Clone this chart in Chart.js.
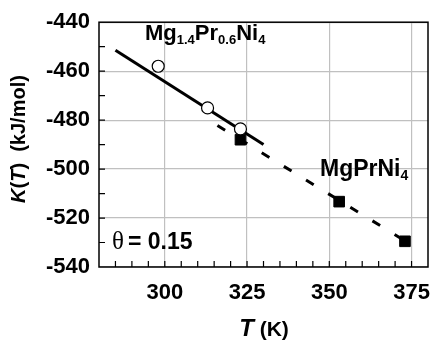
<!DOCTYPE html>
<html>
<head>
<meta charset="utf-8">
<script src="https://cdn.jsdelivr.net/npm/chart.js@4"></script>
<style>
	html, body { margin: 0; padding: 0; background: #fff; }
	#wrap { width: 448px; height: 347px; }
</style>
</head>
<body>
<div id="wrap"><canvas id="chart"></canvas></div>
<script>
// Mg1.4Pr0.6Ni4, open circles
const tempMgPr06 = [298, 313, 323];
const kMgPr06 = [-458, -475, -483.6];
// MgPrNi4, filled squares
const tempMgPr = [323, 353, 373];
const kMgPr = [-488, -513.3, -529.5];
// fitted lines (ends)
const fitSolidT = [285, 330];
const fitSolidK = [-451.5, -490];
const fitDashT = [316, 375.5];
const fitDashK = [-482.2, -531.4];

const xTickLabels = [300, 325, 350, 375];
const yTickLabels = [-440, -460, -480, -500, -520, -540];

function toPoints(xs, ys) {
	return xs.map((x, i) => ({ x: x, y: ys[i] }));
}

const sans = '"Liberation Sans", Arial, sans-serif';

// frame, inside ticks and text labels
const decorPlugin = {
	id: 'decor',
	afterDraw(chart) {
		const ctx = chart.ctx;
		const a = chart.chartArea;
		const xs = chart.scales.x;
		const ys = chart.scales.y;
		ctx.save();
		ctx.strokeStyle = '#000';
		ctx.lineWidth = 1.5;
		ctx.strokeRect(a.left, a.top, a.right - a.left, a.bottom - a.top);

		ctx.lineWidth = 1.2;
		ctx.beginPath();
		for (let v = -530; v < -440; v += 10) {
			let py = ys.getPixelForValue(v);
			ctx.moveTo(a.left, py);
			ctx.lineTo(a.left + 6, py);
		}
		for (let v = 285; v < 380; v += 5) {
			let px = xs.getPixelForValue(v);
			ctx.moveTo(px, a.bottom);
			ctx.lineTo(px, a.bottom - 6);
		}
		ctx.stroke();

		ctx.fillStyle = '#000';
		ctx.textBaseline = 'alphabetic';
		ctx.textAlign = 'left';

		// Mg1.4Pr0.6Ni4
		let x = 145, y = 40;
		const parts = [['Mg', 0], ['1.4', 1], ['Pr', 0], ['0.6', 1], ['Ni', 0], ['4', 1]];
		parts.forEach(p => {
			ctx.font = p[1] ? 'bold 13px ' + sans : 'bold 22px ' + sans;
			ctx.fillText(p[0], x, y + (p[1] ? 4 : 0));
			x += ctx.measureText(p[0]).width;
		});

		// MgPrNi4
		x = 320; y = 176;
		[['MgPrNi', 0], ['4', 1]].forEach(p => {
			ctx.font = p[1] ? 'bold 14px ' + sans : 'bold 23px ' + sans;
			ctx.fillText(p[0], x, y + (p[1] ? 4 : 0));
			x += ctx.measureText(p[0]).width;
		});

		// theta label
		ctx.font = '25px "Liberation Serif", serif';
		ctx.fillText('\u03b8', 112, 249);
		ctx.font = 'bold 23px ' + sans;
		ctx.fillText('= 0.15', 128, 249);

		// x axis title: T (K)
		ctx.font = 'italic bold 24px ' + sans;
		let w1 = ctx.measureText('T').width;
		ctx.font = 'bold 21px ' + sans;
		let w2 = ctx.measureText(' (K)').width;
		x = 264 - (w1 + w2) / 2;
		ctx.font = 'italic bold 24px ' + sans;
		ctx.fillText('T', x, 336);
		ctx.font = 'bold 21px ' + sans;
		ctx.fillText(' (K)', x + w1, 336);

		// y axis title: K(T)  (kJ/mol)
		ctx.translate(25, 139);
		ctx.rotate(-Math.PI / 2);
		const ySegs = [['K', 'italic bold'], ['(', 'bold'], ['T', 'italic bold'], [')  (kJ/mol)', 'bold']];
		let total = 0;
		ySegs.forEach(s => {
			ctx.font = s[1] + ' 20px ' + sans;
			total += ctx.measureText(s[0]).width;
		});
		x = -total / 2;
		ySegs.forEach(s => {
			ctx.font = s[1] + ' 20px ' + sans;
			ctx.fillText(s[0], x, 0);
			x += ctx.measureText(s[0]).width;
		});
		ctx.restore();
	}
};

const ctx = document.getElementById('chart');

new Chart(ctx, {
	type: 'scatter',
	data: {
		datasets: [
			{
				label: 'Mg1.4Pr0.6Ni4',
				data: toPoints(tempMgPr06, kMgPr06),
				pointStyle: 'circle',
				pointRadius: 6,
				backgroundColor: '#fff',
				borderColor: '#000',
				borderWidth: 1.2,
				order: 1
			},
			{
				label: 'MgPrNi4',
				data: toPoints(tempMgPr, kMgPr),
				pointStyle: 'rect',
				pointRadius: 7.5,
				backgroundColor: '#000',
				borderColor: '#000',
				borderWidth: 1,
				order: 2
			},
			{
				label: 'fit Mg1.4Pr0.6Ni4',
				data: toPoints(fitSolidT, fitSolidK),
				showLine: true,
				pointRadius: 0,
				borderColor: '#000',
				borderWidth: 3,
				order: 3
			},
			{
				label: 'fit MgPrNi4',
				data: toPoints(fitDashT, fitDashK),
				showLine: true,
				pointRadius: 0,
				borderColor: '#000',
				borderWidth: 3,
				borderDash: [9, 17],
				order: 4
			}
		]
	},
	options: {
		responsive: true,
		maintainAspectRatio: false,
		animation: false,
		layout: { padding: { left: 0, right: 20, top: 13, bottom: 0 } },
		plugins: {
			legend: { display: false },
			tooltip: { enabled: false }
		},
		scales: {
			x: {
				type: 'linear',
				min: 280,
				max: 380,
				afterFit: (scale) => { scale.height = 80; },
				border: { display: false },
				grid: {
					drawTicks: false,
					lineWidth: 1.2,
					color: (c) => xTickLabels.includes(c.tick.value) ? '#c0c0c0' : 'rgba(0,0,0,0)'
				},
				ticks: {
					stepSize: 5,
					autoSkip: false,
					maxRotation: 0,
					padding: 13,
					color: '#000',
					font: { family: sans, size: 22, weight: 'bold' },
					callback: (v) => xTickLabels.includes(v) ? String(v) : ''
				}
			},
			y: {
				type: 'linear',
				min: -540,
				max: -440,
				afterFit: (scale) => { scale.width = 99; },
				border: { display: false },
				grid: {
					drawTicks: false,
					lineWidth: 1.2,
					color: (c) => yTickLabels.includes(c.tick.value) ? '#c0c0c0' : 'rgba(0,0,0,0)'
				},
				ticks: {
					stepSize: 10,
					autoSkip: false,
					padding: 9,
					color: '#000',
					font: { family: sans, size: 22, weight: 'bold' },
					callback: (v) => yTickLabels.includes(v) ? String(v) : ''
				}
			}
		}
	},
	plugins: [decorPlugin]
});
</script>
</body>
</html>
